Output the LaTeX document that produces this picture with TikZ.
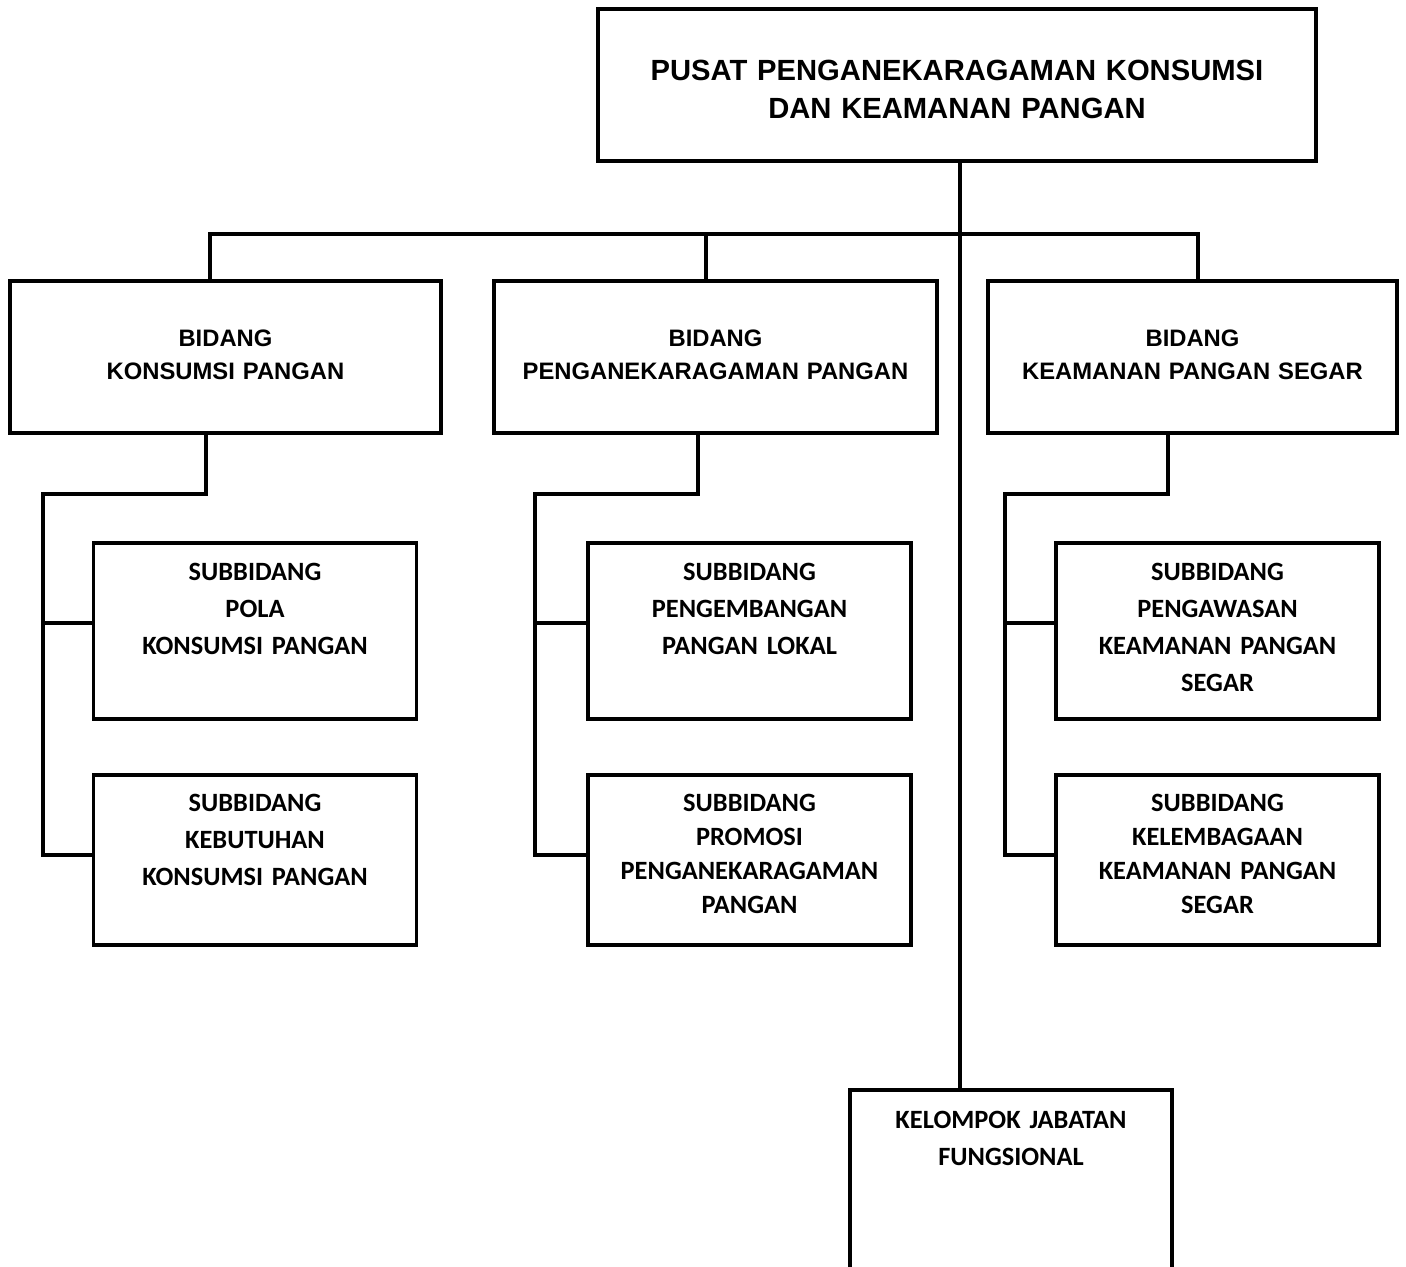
\documentclass[tikz,border=0pt]{standalone}
\usepackage{fontspec}
\setmainfont{Liberation Sans}
\newfontfamily\calibri{Carlito}
\usepackage{tikz}
\usetikzlibrary{positioning, calc}

\tikzset{
  orgline/.style={line width=1.75pt},
  orgbox/.style={draw, line width=1.75pt, inner sep=0pt, align=center},
  pusatbox/.style={orgbox, text width=359pt, text height=35.75pt, text depth=40.25pt,
    font=\bfseries\fontsize{14.6}{19}\selectfont},
  bidangbox/.style={orgbox, text height=32.75pt, text depth=43.25pt,
    font=\bfseries\fontsize{11.9}{16.5}\selectfont},
  subbox/.style={orgbox, text width=161.5pt,
    font=\calibri\bfseries\fontsize{13.2}{18.5}\selectfont},
  subtop/.style={subbox, text height=18.75pt, text depth=69.25pt},
  subbottom/.style={subbox, text height=18.25pt, text depth=66.75pt},
  tight/.style={font=\calibri\bfseries\fontsize{13.2}{17}\selectfont}
}

\begin{document}
\begin{tikzpicture}[x=0.5pt, y=-0.5pt]
  \useasboundingbox (0,0) rectangle (1406,1266);
  \fill[white] (0,0) rectangle (1406,1266);
  \clip (0,0) rectangle (1406,1266);

  % kepala pusat
  \node[pusatbox] (pusat) at (957,85)
    {PUSAT PENGANEKARAGAMAN KONSUMSI\\DAN KEAMANAN PANGAN};

  % bidang
  \node[bidangbox, text width=215.5pt] (bkp) at (225.5,357) {BIDANG\\KONSUMSI PANGAN};
  \node[bidangbox, text width=221.5pt] (bpp) at (715.5,357) {BIDANG\\PENGANEKARAGAMAN PANGAN};
  \node[bidangbox, text width=204.5pt] (bks) at (1192.5,357) {BIDANG\\KEAMANAN PANGAN SEGAR};

  % subbidang
  \node[subtop] (pola) at (255,631) {SUBBIDANG\\POLA\\KONSUMSI PANGAN};
  \node[subbottom] (kebutuhan) at (255,860) {SUBBIDANG\\KEBUTUHAN\\KONSUMSI PANGAN};
  \node[subtop] (lokal) at (749.5,631) {SUBBIDANG\\PENGEMBANGAN\\PANGAN LOKAL};
  \node[subbottom, tight] (promosi) at (749.5,860) {SUBBIDANG\\PROMOSI\\PENGANEKARAGAMAN\\PANGAN};
  \node[subtop] (pengawasan) at (1217.5,631) {SUBBIDANG\\PENGAWASAN\\KEAMANAN PANGAN\\SEGAR};
  \node[subbottom, tight] (kelembagaan) at (1217.5,860) {SUBBIDANG\\KELEMBAGAAN\\KEAMANAN PANGAN\\SEGAR};

  % fungsional
  \node[subbox, text width=161pt, text height=19.25pt, text depth=75.75pt] (jabfung) at (1011,1185)
    {KELOMPOK JABATAN\\FUNGSIONAL};

  % garis komando
  \coordinate (j1) at (210,234);
  \coordinate (j2) at (706,234);
  \coordinate (j3) at (1198,234);
  \draw[orgline] (960,0 |- pusat.south) -- (960,0 |- jabfung.north);
  \draw[orgline] (j1 |- bkp.north) -- (j1) -- (j3) -- (j3 |- bks.north);
  \draw[orgline] (j2) -- (j2 |- bpp.north);

  % cabang ke subbidang
  \coordinate (e1) at (206,494);  \coordinate (r1) at (43,494);
  \coordinate (e2) at (698,494);  \coordinate (r2) at (535,494);
  \coordinate (e3) at (1168,494); \coordinate (r3) at (1005,494);
  \draw[orgline] (e1 |- bkp.south) -- (e1) -- (r1) |- (kebutuhan.west |- 0,855);
  \draw[orgline] (e2 |- bpp.south) -- (e2) -- (r2) |- (promosi.west |- 0,855);
  \draw[orgline] (e3 |- bks.south) -- (e3) -- (r3) |- (kelembagaan.west |- 0,855);
  \draw[orgline] (r1 |- 0,623) -- (pola.west |- 0,623);
  \draw[orgline] (r2 |- 0,623) -- (lokal.west |- 0,623);
  \draw[orgline] (r3 |- 0,623) -- (pengawasan.west |- 0,623);
\end{tikzpicture}
\end{document}
